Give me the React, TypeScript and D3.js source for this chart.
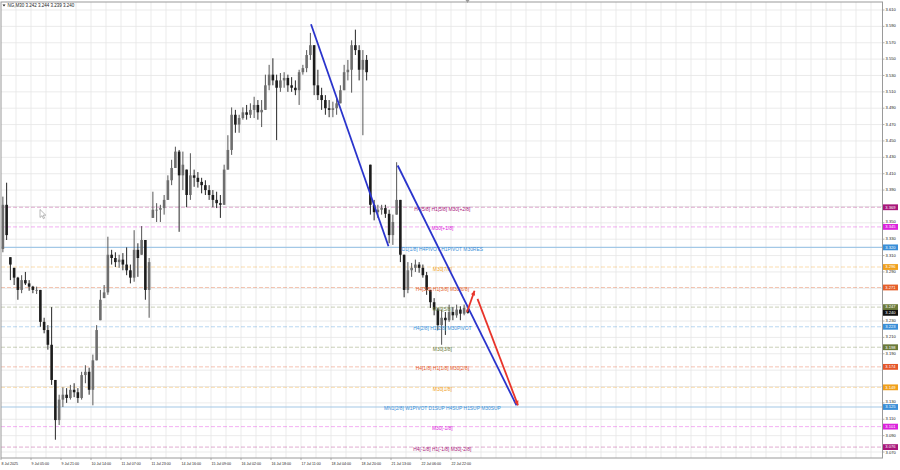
import React from 'react';
import * as d3 from 'd3';

// ---------- DATA ----------
const symbolHeader = 'NG,M30  3.242 3.244 3.239 3.240';

const highs = [
  3.382, 3.399, 3.308, 3.295, 3.284, 3.286, 3.290, 3.280, 3.273, 3.272,
  3.268, 3.234, 3.225, 3.247, 3.158, 3.140, 3.149, 3.148, 3.152, 3.154,
  3.148, 3.168, 3.176, 3.173, 3.189, 3.225, 3.268, 3.274, 3.333, 3.317,
  3.314, 3.311, 3.313, 3.320, 3.299, 3.341, 3.325, 3.346, 3.329, 3.307,
  3.388, 3.374, 3.372, 3.384, 3.408, 3.427, 3.443, 3.439, 3.437, 3.415,
  3.435, 3.415, 3.412, 3.405, 3.402, 3.396, 3.390, 3.388, 3.384, 3.421,
  3.457, 3.491, 3.488, 3.482, 3.491, 3.494, 3.496, 3.504, 3.500, 3.500,
  3.531, 3.543, 3.551, 3.531, 3.533, 3.534, 3.531, 3.528, 3.524, 3.537,
  3.543, 3.561, 3.582, 3.567, 3.537, 3.515, 3.506, 3.500, 3.498, 3.502,
  3.518, 3.543, 3.549, 3.573, 3.586, 3.567, 3.561, 3.555, 3.421, 3.378,
  3.372, 3.372, 3.372, 3.366, 3.360, 3.424, 3.378, 3.311, 3.302, 3.301,
  3.305, 3.302, 3.299, 3.290, 3.268, 3.258, 3.246, 3.244, 3.241, 3.250,
  3.247, 3.250, 3.248, 3.250, 3.244,
];

const lows = [
  3.314, 3.329, 3.280, 3.274, 3.256, 3.264, 3.274, 3.267, 3.264, 3.263,
  3.223, 3.215, 3.195, 3.152, 3.085, 3.103, 3.125, 3.130, 3.134, 3.137,
  3.130, 3.134, 3.154, 3.140, 3.127, 3.182, 3.231, 3.258, 3.262, 3.299,
  3.296, 3.295, 3.292, 3.286, 3.276, 3.278, 3.284, 3.311, 3.256, 3.234,
  3.356, 3.351, 3.351, 3.360, 3.378, 3.396, 3.417, 3.339, 3.390, 3.369,
  3.378, 3.394, 3.393, 3.386, 3.384, 3.378, 3.369, 3.368, 3.356, 3.372,
  3.415, 3.433, 3.460, 3.460, 3.476, 3.476, 3.478, 3.478, 3.476, 3.467,
  3.488, 3.512, 3.518, 3.451, 3.510, 3.515, 3.510, 3.510, 3.506, 3.494,
  3.531, 3.534, 3.549, 3.506, 3.500, 3.488, 3.482, 3.479, 3.479, 3.482,
  3.496, 3.512, 3.524, 3.509, 3.555, 3.524, 3.457, 3.524, 3.360, 3.353,
  3.356, 3.360, 3.356, 3.325, 3.323, 3.360, 3.302, 3.259, 3.264, 3.284,
  3.290, 3.289, 3.283, 3.262, 3.246, 3.237, 3.219, 3.201, 3.213, 3.229,
  3.231, 3.234, 3.231, 3.237, 3.239,
];

const closes = [
  3.372, 3.335, 3.299, 3.283, 3.268, 3.280, 3.276, 3.272, 3.268, 3.268,
  3.229, 3.219, 3.201, 3.158, 3.109, 3.134, 3.140, 3.136, 3.146, 3.143,
  3.136, 3.164, 3.168, 3.146, 3.182, 3.219, 3.256, 3.265, 3.311, 3.307,
  3.302, 3.305, 3.299, 3.292, 3.283, 3.317, 3.307, 3.329, 3.268, 3.302,
  3.366, 3.366, 3.368, 3.378, 3.402, 3.417, 3.437, 3.408, 3.421, 3.384,
  3.408, 3.405, 3.400, 3.396, 3.390, 3.384, 3.378, 3.374, 3.372, 3.415,
  3.439, 3.482, 3.470, 3.478, 3.485, 3.482, 3.488, 3.494, 3.485, 3.488,
  3.518, 3.531, 3.524, 3.515, 3.524, 3.527, 3.518, 3.515, 3.512, 3.534,
  3.539, 3.555, 3.567, 3.518, 3.506, 3.500, 3.490, 3.488, 3.490, 3.496,
  3.512, 3.534, 3.537, 3.567, 3.561, 3.537, 3.549, 3.534, 3.372, 3.363,
  3.366, 3.368, 3.361, 3.335, 3.351, 3.378, 3.311, 3.268, 3.292, 3.295,
  3.299, 3.295, 3.286, 3.268, 3.253, 3.244, 3.225, 3.234, 3.231, 3.241,
  3.237, 3.244, 3.239, 3.246, 3.240,
];
const firstOpen = 3.318;
const currentPrice = 3.24;

const dateLabels = [
  '8 Jul 2025', '9 Jul 05:00', '9 Jul 21:00', '10 Jul 14:00', '11 Jul 07:00',
  '11 Jul 23:00', '14 Jul 16:00', '15 Jul 09:00', '16 Jul 02:00', '16 Jul 18:00',
  '17 Jul 11:00', '18 Jul 04:00', '18 Jul 20:00', '21 Jul 13:00', '22 Jul 06:00',
  '22 Jul 22:00',
];
const dateLabelBars = [0, 8, 16, 24, 32, 40, 48, 56, 64, 72, 80, 88, 96, 104, 112, 120];

const priceTickLabels = [
  '3.610', '3.590', '3.570', '3.550', '3.530', '3.510', '3.490', '3.470', '3.450',
  '3.430', '3.410', '3.390', '3.370', '3.350', '3.330', '3.310', '3.290', '3.270',
  '3.250', '3.230', '3.210', '3.190', '3.170', '3.150', '3.130', '3.110', '3.090', '3.070',
];

const levelPrices = [3.369, 3.345, 3.320, 3.296, 3.271, 3.247, 3.223, 3.198, 3.174, 3.149, 3.125, 3.101, 3.076];
const levelNames = [
  'H4[5/8] H1[5/8] M30[+2/8]',
  'M30[+1/8]',
  'D1[1/8] H4PIVOT H1PIVOT M30RES',
  'M30[7/8]',
  'H4[3/8] H1[3/8] M30[6/8]',
  'M30[5/8]',
  'H4[2/8] H1[2/8] M30PIVOT',
  'M30[3/8]',
  'H4[1/8] H1[1/8] M30[2/8]',
  'M30[1/8]',
  'MN1[2/8] W1PIVOT D1SUP H4SUP H1SUP M30SUP',
  'M30[-1/8]',
  'H4[-1/8] H1[-1/8] M30[-2/8]',
];
const levelLabelBar = 117.2;

// trend lines / arrows in (bar index, price)
const trendLines = [
  { x1: 82.17, p1: 3.5926, x2: 102.83, p2: 3.3213 },
  { x1: 105.29, p1: 3.4200, x2: 136.97, p2: 3.1270 },
];
const arrows = [
  { x1: 123.77, p1: 3.2410, x2: 125.77, p2: 3.2670 },
  { x1: 126.57, p1: 3.2570, x2: 137.37, p2: 3.1270 },
];

// ---------- STYLE ----------
const levelColors = [
  '#a8177a', '#dc22dc', '#3a8fd8', '#f0a01c', '#e55f2a', '#6b7a3a', '#3a8fd8',
  '#6b7a3a', '#e5572a', '#f0a01c', '#3a8fd8', '#dc22dc', '#a8177a',
];
const levelSolid = [false, false, true, false, false, false, false, false, false, false, true, false, false];

const W = 900;
const H = 470;
const plotLeft = 1;
const plotRight = 882.5;
const plotTop = 2;
const plotBottom = 458;
const FONT = '"Liberation Sans", Arial, Helvetica, sans-serif';
const BOX_H = 5.8;

export default function App() {
  const x = d3.scaleLinear().domain([0, 124]).range([2.875, 2.875 + 3.75 * 124]);
  const y = d3.scaleLinear().domain([3.07, 3.61]).range([452, 10]);
  const barW = 2.6;

  const tickValues = priceTickLabels.map((t) => +t);
  const vGrid = d3.range(0, 240, 4).map((i) => x(i) - 1.875).filter((v) => v > plotLeft && v < plotRight);

  const boxYs = [...levelPrices, currentPrice].map((p) => y(p));
  // tick labels hidden behind a level box are skipped, near ones nudged
  const tickPlacements = priceTickLabels
    .map((t) => {
      const ty = y(+t);
      let nearest = Infinity;
      let nearestY = 0;
      boxYs.forEach((by) => {
        if (Math.abs(by - ty) < Math.abs(nearest)) {
          nearest = by - ty;
          nearestY = by;
        }
      });
      const d = Math.abs(nearest);
      if (d < 3.6) return null;
      let ly = ty;
      if (d < 5.4) ly = nearestY + (ty < nearestY ? -5.4 : 5.4);
      return { t, ty, ly };
    })
    .filter(Boolean) as { t: string; ty: number; ly: number }[];

  const bars = closes.map((c, i) => {
    const rawOpen = i === 0 ? firstOpen : closes[i - 1];
    const o = Math.max(lows[i], Math.min(highs[i], rawOpen));
    return { i, o, h: highs[i], l: lows[i], c };
  });

  const arrowHead = (x1: number, y1: number, x2: number, y2: number) => {
    const ang = Math.atan2(y2 - y1, x2 - x1);
    const len = 5;
    const spread = 0.45;
    const a1 = ang + Math.PI - spread;
    const a2 = ang + Math.PI + spread;
    return `M${x2},${y2} L${x2 + len * Math.cos(a1)},${y2 + len * Math.sin(a1)} L${x2 + len * Math.cos(a2)},${y2 + len * Math.sin(a2)} Z`;
  };

  return (
    <svg
      width={W}
      height={H}
      style={{ position: 'fixed', left: 0, top: 0, background: '#ffffff' }}
      fontFamily={FONT}
    >
      <rect x={0} y={0} width={W} height={H} fill="#ffffff" />
      <defs>
        <clipPath id="plotClip">
          <rect x={plotLeft} y={plotTop} width={plotRight - plotLeft} height={plotBottom - plotTop} />
        </clipPath>
      </defs>

      {/* grid */}
      <g clipPath="url(#plotClip)">
        {vGrid.map((gx, k) => (
          <line key={'vg' + k} x1={gx} x2={gx} y1={plotTop} y2={plotBottom} stroke="#e6e6e6" strokeWidth={0.8} />
        ))}
        {tickValues.map((v, k) => (
          <line key={'hg' + k} x1={plotLeft} x2={plotRight} y1={y(v)} y2={y(v)} stroke="#e6e6e6" strokeWidth={0.8} />
        ))}

        {/* level lines */}
        {levelPrices.map((p, k) => (
          <line
            key={'lv' + k}
            x1={plotLeft}
            x2={plotRight}
            y1={y(p)}
            y2={y(p)}
            stroke={levelSolid[k] ? '#a3c8e6' : levelColors[k]}
            strokeOpacity={levelSolid[k] ? 1 : 0.45}
            strokeWidth={levelSolid[k] ? 1.1 : 0.8}
            strokeDasharray={levelSolid[k] ? undefined : '4,2'}
          />
        ))}

        {/* bars */}
        {bars.map((b) => {
          const cx = x(b.i);
          const up = b.c >= b.o;
          const col = up ? '#6e6e6e' : '#1c1c1c';
          const yTop = y(Math.max(b.o, b.c));
          const yBot = y(Math.min(b.o, b.c));
          return (
            <g key={'b' + b.i}>
              <line x1={cx} x2={cx} y1={y(b.h)} y2={y(b.l)} stroke={up ? '#555555' : '#262626'} strokeWidth={1} />
              <rect x={cx - barW / 2} y={yTop} width={barW} height={Math.max(0.8, yBot - yTop)} fill={col} />
            </g>
          );
        })}

        {/* level labels */}
        {levelPrices.map((p, k) => (
          <text
            key={'ll' + k}
            x={x(levelLabelBar)}
            y={y(p) + 2.2}
            textAnchor="middle"
            dominantBaseline="middle"
            fontSize={4.9}
            fill={levelColors[k]}
          >
            {levelNames[k]}
          </text>
        ))}

        {/* trend lines */}
        {trendLines.map((t, k) => (
          <line
            key={'tl' + k}
            x1={x(t.x1)}
            y1={y(t.p1)}
            x2={x(t.x2)}
            y2={y(t.p2)}
            stroke="#2a34cc"
            strokeWidth={1.8}
          />
        ))}

        {/* arrows */}
        {arrows.map((a, k) => {
          const x1 = x(a.x1), y1 = y(a.p1), x2 = x(a.x2), y2 = y(a.p2);
          return (
            <g key={'ar' + k}>
              <line x1={x1} y1={y1} x2={x2} y2={y2} stroke="#e8342a" strokeWidth={1.8} />
              <path d={arrowHead(x1, y1, x2, y2)} fill="#e8342a" />
            </g>
          );
        })}

        {/* mouse cursor */}
        <path
          transform="translate(40,209.5)"
          d="M0,0 L0,8 L2,6.2 L3.4,9.2 L4.6,8.6 L3.2,5.7 L5.8,5.7 Z"
          fill="#ffffff"
          stroke="#8a8a8a"
          strokeWidth={0.6}
        />
      </g>

      {/* frame */}
      <rect
        x={plotLeft}
        y={plotTop}
        width={plotRight - plotLeft}
        height={plotBottom - plotTop}
        fill="none"
        stroke="#9a9a9a"
        strokeWidth={1}
      />
      <path d="M465.5,0 L469.5,0 L467.5,3 Z" fill="#9a9a9a" />

      {/* header */}
      <path d="M2.5,4.4 L5.5,4.4 L4,6.4 Z" fill="#222" />
      <text x={7.5} y={5.6} dominantBaseline="middle" fontSize={4.5} fill="#1a1a1a">
        {symbolHeader}
      </text>

      {/* price axis labels */}
      {tickPlacements.map((tp, k) => (
        <g key={'pt' + k}>
          <line x1={plotRight} x2={plotRight + 2} y1={tp.ty} y2={tp.ty} stroke="#9a9a9a" strokeWidth={0.8} />
          <text x={885.5} y={tp.ly} dominantBaseline="middle" fontSize={4.1} fill="#222">
            {tp.t}
          </text>
        </g>
      ))}

      {/* level price boxes */}
      {levelPrices.map((p, k) => (
        <g key={'pb' + k}>
          <rect x={883} y={y(p) - BOX_H / 2} width={15} height={BOX_H} fill={levelColors[k]} />
          <text x={885.3} y={y(p) + 0.2} dominantBaseline="middle" fontSize={4.1} fill="#ffffff">
            {p.toFixed(3)}
          </text>
        </g>
      ))}
      <g>
        <rect x={883} y={y(currentPrice) - BOX_H / 2} width={15} height={BOX_H} fill="#111111" />
        <text x={885.3} y={y(currentPrice) + 0.2} dominantBaseline="middle" fontSize={4.1} fill="#ffffff">
          {currentPrice.toFixed(3)}
        </text>
      </g>

      {/* date labels */}
      {dateLabels.map((d, k) => {
        const lx = x(dateLabelBars[k]) - 1.875;
        return (
          <g key={'dl' + k}>
            <line x1={lx} x2={lx} y1={plotBottom} y2={plotBottom + 2} stroke="#9a9a9a" strokeWidth={0.8} />
            <text x={lx + 0.5} y={464.5} dominantBaseline="middle" fontSize={3.6} fill="#222">
              {d}
            </text>
          </g>
        );
      })}
    </svg>
  );
}
